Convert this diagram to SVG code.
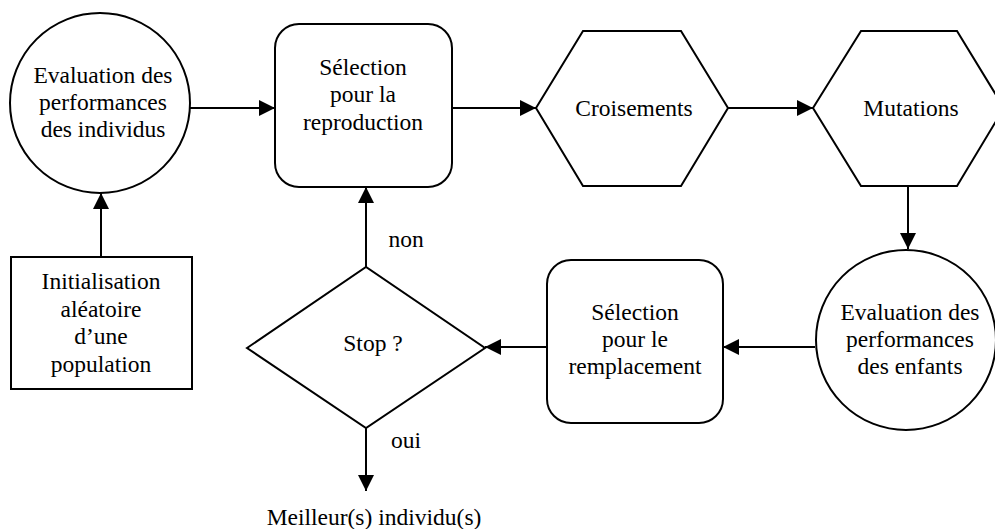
<svg xmlns="http://www.w3.org/2000/svg" width="995" height="529" viewBox="0 0 995 529">
<style>
.s{fill:#fff;stroke:#000;stroke-width:2}
.t{font-family:'Liberation Serif','Times New Roman',Times,'DejaVu Serif',serif;font-size:23.5px;fill:#000;text-anchor:middle}
.c{stroke:#000;stroke-width:2;fill:none}
</style>
<defs>
<marker id="a" viewBox="0 0 16 16" refX="16" refY="8" markerWidth="16" markerHeight="16" markerUnits="userSpaceOnUse" orient="auto">
<path d="M0,0 L16,8 L0,16 z" fill="#000"/>
</marker>
</defs>
<rect width="995" height="529" fill="#fff"/>
<g id="connectors">
<line class="c" x1="190" y1="108" x2="275" y2="108" marker-end="url(#a)"/>
<line class="c" x1="452" y1="108" x2="536" y2="108" marker-end="url(#a)"/>
<line class="c" x1="728" y1="108" x2="813" y2="108" marker-end="url(#a)"/>
<line class="c" x1="908" y1="186" x2="908" y2="249" marker-end="url(#a)"/>
<line class="c" x1="815" y1="347" x2="723" y2="347" marker-end="url(#a)"/>
<line class="c" x1="547" y1="347" x2="485" y2="347" marker-end="url(#a)"/>
<line class="c" x1="366" y1="267" x2="366" y2="187" marker-end="url(#a)"/>
<line class="c" x1="366" y1="428" x2="366" y2="491" marker-end="url(#a)"/>
<line class="c" x1="101" y1="257" x2="101" y2="193" marker-end="url(#a)"/>
<text class="t" x="406" y="247" font-family="Liberation Serif">non</text>
<text class="t" x="406" y="448">oui</text>
<text class="t" x="374" y="525">Meilleur(s) individu(s)</text>
</g>
<g id="eval1">
<circle class="s" cx="100" cy="103" r="90"/>
<text class="t" x="103" y="83">Evaluation des</text>
<text class="t" x="103" y="110">performances</text>
<text class="t" x="103" y="137">des individus</text>
</g>
<g id="selRepro">
<rect class="s" x="275" y="24" width="177" height="163" rx="24"/>
<text class="t" x="363" y="75">Sélection</text>
<text class="t" x="363" y="102">pour la</text>
<text class="t" x="363" y="130">reproduction</text>
</g>
<g id="croisements">
<polygon class="s" points="536,108 583,31 681,31 728,108 681,186 583,186"/>
<text class="t" x="634" y="116">Croisements</text>
</g>
<g id="mutations">
<polygon class="s" points="813,108 861,31 957,31 1004,108 957,186 861,186"/>
<text class="t" x="911" y="116">Mutations</text>
</g>
<g id="eval2">
<circle class="s" cx="906" cy="340" r="90"/>
<text class="t" x="910" y="320">Evaluation des</text>
<text class="t" x="910" y="347">performances</text>
<text class="t" x="910" y="374">des enfants</text>
</g>
<g id="selRempl">
<rect class="s" x="547" y="260" width="176" height="163" rx="24"/>
<text class="t" x="635" y="320">Sélection</text>
<text class="t" x="635" y="347">pour le</text>
<text class="t" x="635" y="374">remplacement</text>
</g>
<g id="stop">
<polygon class="s" points="247,348 366,267 485,348 366,428"/>
<text class="t" x="373" y="351">Stop ?</text>
</g>
<g id="init">
<rect class="s" x="11" y="257" width="181" height="132"/>
<text class="t" x="101" y="289">Initialisation</text>
<text class="t" x="101" y="317">aléatoire</text>
<text class="t" x="101" y="344">d’une</text>
<text class="t" x="101" y="372">population</text>
</g>
</svg>
